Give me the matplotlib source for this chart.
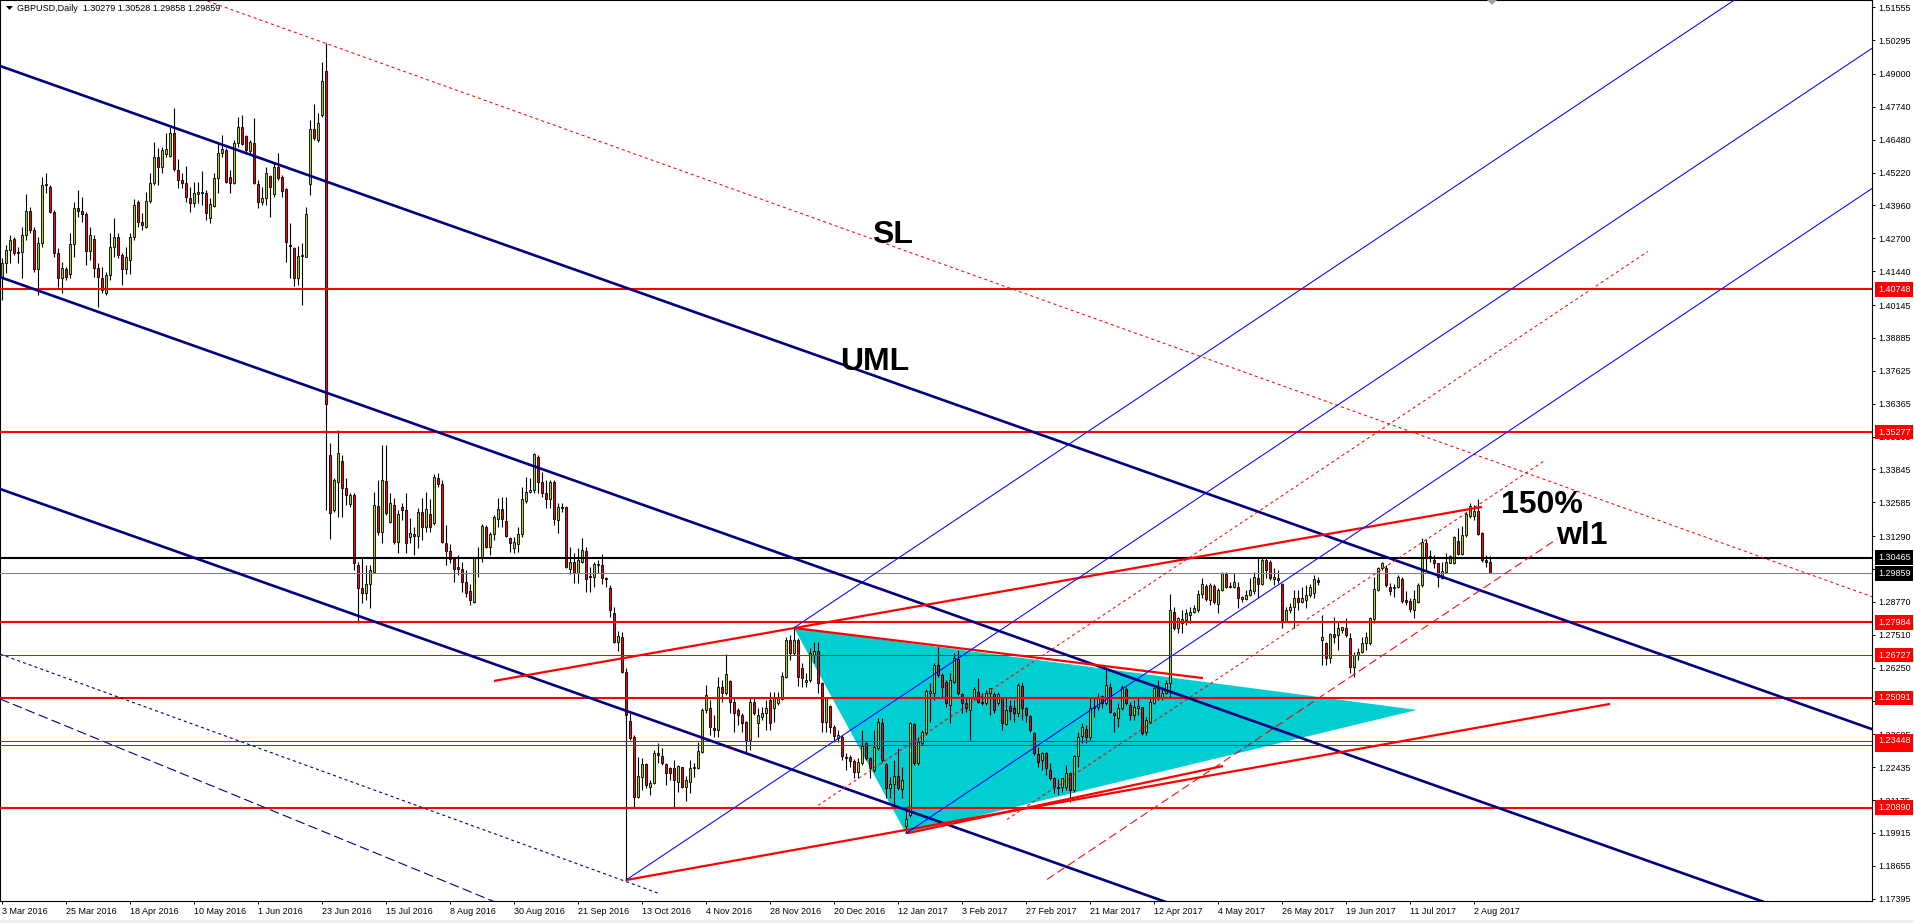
import numpy as np
import matplotlib.pyplot as plt
from matplotlib.patches import Polygon, Rectangle

plt.rcParams['lines.scale_dashes'] = False

# GBPUSD daily candles from 3 Mar 2016 to 8 Aug 2017, values in 1/10000 (pips)
opens_pips = [
    14123, 14174, 14225, 14266, 14219, 14219, 14283, 14376, 14302, 14151,
    14251, 14475, 14466, 14370, 14213, 14117, 14151, 14133, 14248, 14385,
    14376, 14362, 14223, 14266, 14158, 14119, 14059, 14130, 14238, 14274,
    14206, 14151, 14187, 14274, 14411, 14334, 14315, 14413, 14481, 14581,
    14545, 14593, 14587, 14673, 14532, 14494, 14483, 14423, 14404, 14439,
    14445, 14443, 14349, 14394, 14500, 14596, 14609, 14504, 14481, 14634,
    14698, 14662, 14606, 14637, 14478, 14411, 14423, 14509, 14440, 14542,
    14504, 14458, 14245, 14232, 14117, 14202, 14200, 14478, 14688, 14647,
    14743, 14913, 13440, 13229, 13338, 13417, 13312, 13252, 13287, 13018,
    12929, 12910, 12946, 12990, 13244, 13146, 13340, 13184, 13248, 13108,
    13242, 13229, 13127, 13137, 13129, 13223, 13165, 13212, 13181, 13350,
    13327, 13104, 13073, 13040, 13009, 13002, 12954, 12920, 12878, 13044,
    13050, 13165, 13089, 13137, 13193, 13232, 13188, 13121, 13082, 13100,
    13137, 13265, 13299, 13306, 13433, 13338, 13293, 13270, 13338, 13191,
    13242, 13242, 13002, 13031, 12989, 13031, 13073, 12976, 12974, 13018,
    13018, 12967, 12929, 12833, 12725, 12744, 12610, 12422, 12361, 12131,
    12207, 12256, 12169, 12182, 12297, 12286, 12256, 12239, 12239, 12188,
    12243, 12166, 12188, 12239, 12239, 12303, 12463, 12469, 12392, 12386,
    12552, 12527, 12572, 12495, 12463, 12444, 12418, 12348, 12495, 12412,
    12437, 12450, 12501, 12469, 12488, 12503, 12590, 12731, 12680, 12731,
    12622, 12571, 12578, 12672, 12690, 12565, 12418, 12478, 12399, 12354,
    12358, 12284, 12281, 12268, 12226, 12258, 12337, 12277, 12233, 12316,
    12412, 12254, 12162, 12179, 12211, 12160, 12019, 12060, 12409, 12258,
    12335, 12373, 12527, 12527, 12635, 12597, 12571, 12482, 12571, 12657,
    12524, 12488, 12463, 12514, 12533, 12495, 12488, 12527, 12524, 12488,
    12507, 12409, 12478, 12469, 12450, 12555, 12469, 12440, 12376, 12294,
    12271, 12297, 12233, 12201, 12169, 12169, 12169, 12220, 12156, 12286,
    12363, 12389, 12358, 12469, 12475, 12516, 12488, 12552, 12450, 12431,
    12469, 12542, 12482, 12444, 12469, 12473, 12380, 12418, 12491, 12546,
    12507, 12527, 12567, 12839, 12776, 12795, 12808, 12827, 12840, 12846,
    12907, 12938, 12884, 12938, 12869, 12923, 12984, 12935, 12935, 12935,
    12887, 12887, 12903, 12920, 12967, 12946, 13037, 13031, 12963, 12967,
    12946, 12805, 12846, 12859, 12891, 12878, 12884, 12903, 12910, 12961,
    12731, 12718, 12661, 12754, 12750, 12769, 12776, 12737, 12626, 12673,
    12686, 12718, 12718, 12810, 12923, 13006, 13006, 12933, 12929, 12933,
    12963, 12884, 12882, 12846, 12878, 12942, 13104, 13053, 13037, 13025,
    12967, 12993, 13027, 13027, 13112, 13060, 13133, 13206, 13206, 13225,
    13140, 13037, 13028]
highs_pips = [
    14194, 14245, 14283, 14277, 14238, 14315, 14439, 14391, 14315, 14277,
    14506, 14519, 14475, 14379, 14232, 14181, 14162, 14289, 14411, 14455,
    14430, 14372, 14315, 14283, 14174, 14162, 14142, 14289, 14347, 14289,
    14213, 14238, 14289, 14420, 14417, 14366, 14449, 14519, 14641, 14615,
    14621, 14673, 14698, 14768, 14573, 14519, 14547, 14468, 14487, 14487,
    14529, 14455, 14423, 14522, 14634, 14666, 14615, 14532, 14647, 14734,
    14743, 14666, 14647, 14730, 14494, 14468, 14545, 14513, 14560, 14598,
    14513, 14462, 14330, 14238, 14241, 14251, 14391, 14724, 14785, 14752,
    14947, 15017, 13485, 13350, 13536, 13440, 13350, 13293, 13293, 13031,
    13044, 13018, 13018, 13299, 13344, 13478, 13478, 13293, 13274, 13229,
    13255, 13293, 13197, 13165, 13236, 13274, 13299, 13270, 13367, 13370,
    13344, 13172, 13098, 13045, 13057, 13031, 12999, 12946, 13050, 13089,
    13176, 13172, 13146, 13210, 13274, 13278, 13280, 13127, 13127, 13165,
    13316, 13357, 13350, 13449, 13440, 13376, 13344, 13344, 13344, 13255,
    13255, 13244, 13089, 13066, 13082, 13121, 13089, 13012, 13031, 13037,
    13060, 12974, 12942, 12859, 12767, 12763, 12622, 12450, 12367, 12284,
    12278, 12258, 12194, 12309, 12335, 12316, 12261, 12246, 12271, 12252,
    12246, 12210, 12271, 12258, 12341, 12469, 12559, 12501, 12444, 12591,
    12578, 12677, 12578, 12508, 12469, 12450, 12422, 12514, 12514, 12469,
    12475, 12501, 12533, 12533, 12533, 12610, 12744, 12750, 12778, 12737,
    12641, 12603, 12699, 12724, 12724, 12571, 12514, 12482, 12405, 12386,
    12367, 12297, 12290, 12274, 12277, 12386, 12341, 12284, 12386, 12431,
    12431, 12258, 12207, 12271, 12316, 12246, 12092, 12418, 12414, 12361,
    12386, 12542, 12567, 12641, 12705, 12603, 12578, 12603, 12680, 12693,
    12527, 12507, 12514, 12552, 12584, 12527, 12539, 12548, 12533, 12533,
    12514, 12514, 12501, 12501, 12565, 12571, 12475, 12444, 12380, 12322,
    12303, 12303, 12258, 12207, 12197, 12201, 12252, 12226, 12290, 12380,
    12412, 12405, 12514, 12507, 12529, 12520, 12629, 12565, 12456, 12488,
    12558, 12552, 12495, 12501, 12507, 12475, 12437, 12507, 12552, 12578,
    12552, 12578, 12907, 12859, 12820, 12846, 12848, 12859, 12865, 12923,
    12967, 12946, 12948, 12946, 12929, 12993, 12993, 12954, 12986, 12954,
    12900, 12923, 12967, 12993, 13044, 13044, 13044, 13037, 13006, 12999,
    12951, 12859, 12871, 12923, 12923, 12935, 12942, 12946, 12980, 12974,
    12827, 12725, 12756, 12818, 12801, 12782, 12814, 12756, 12686, 12699,
    12744, 12763, 12820, 12974, 13012, 13031, 13018, 12948, 12946, 12980,
    12974, 12920, 12891, 12923, 12951, 13121, 13117, 13076, 13057, 13027,
    13031, 13063, 13057, 13129, 13159, 13168, 13223, 13255, 13248, 13270,
    13146, 13057, 13053]
lows_pips = [
    14034, 14136, 14174, 14206, 14174, 14117, 14264, 14289, 14142, 14053,
    14238, 14443, 14366, 14200, 14082, 14059, 14110, 14117, 14200, 14353,
    14334, 14168, 14187, 14123, 14008, 14059, 14053, 14110, 14200, 14194,
    14091, 14133, 14133, 14264, 14315, 14302, 14308, 14404, 14475, 14475,
    14519, 14583, 14583, 14529, 14462, 14462, 14411, 14372, 14391, 14404,
    14398, 14340, 14330, 14391, 14443, 14583, 14483, 14443, 14478, 14621,
    14628, 14593, 14590, 14478, 14385, 14398, 14398, 14351, 14430, 14494,
    14430, 14181, 14117, 14087, 14091, 14015, 14197, 14436, 14647, 14641,
    14736, 13230, 13117, 13223, 13204, 13204, 13248, 13242, 12999, 12797,
    12871, 12884, 12852, 12986, 13133, 13104, 13210, 13178, 13100, 13066,
    13191, 13063, 13101, 13057, 13082, 13114, 13146, 13146, 13172, 13318,
    13101, 13018, 13025, 12954, 12980, 12916, 12897, 12865, 12874, 12974,
    13031, 13082, 13057, 13114, 13165, 13165, 13127, 13069, 13063, 13069,
    13127, 13255, 13296, 13296, 13296, 13280, 13236, 13236, 13172, 13140,
    13223, 13006, 12984, 12948, 12948, 13025, 12916, 12916, 12935, 12986,
    12946, 12935, 12818, 12718, 12690, 12603, 11811, 12348, 12092, 12124,
    12156, 12162, 12137, 12179, 12258, 12252, 12175, 12194, 12086, 12150,
    12162, 12115, 12143, 12207, 12235, 12297, 12450, 12367, 12361, 12358,
    12495, 12520, 12450, 12380, 12405, 12380, 12303, 12309, 12444, 12361,
    12424, 12386, 12386, 12418, 12482, 12501, 12584, 12655, 12673, 12555,
    12552, 12552, 12571, 12641, 12529, 12380, 12380, 12373, 12341, 12341,
    12271, 12233, 12246, 12201, 12201, 12252, 12271, 12201, 12226, 12309,
    12265, 12124, 12124, 12092, 12156, 12124, 11990, 12054, 12252, 12252,
    12328, 12367, 12418, 12501, 12590, 12514, 12475, 12412, 12565, 12520,
    12450, 12456, 12348, 12501, 12488, 12482, 12482, 12444, 12450, 12482,
    12386, 12405, 12424, 12418, 12437, 12424, 12418, 12380, 12290, 12246,
    12233, 12214, 12194, 12143, 12137, 12150, 12156, 12111, 12150, 12246,
    12335, 12335, 12348, 12437, 12463, 12469, 12482, 12450, 12380, 12399,
    12463, 12482, 12424, 12424, 12444, 12367, 12367, 12412, 12486, 12501,
    12501, 12524, 12514, 12769, 12757, 12756, 12789, 12795, 12833, 12840,
    12891, 12882, 12865, 12869, 12833, 12920, 12929, 12929, 12929, 12852,
    12878, 12884, 12900, 12907, 12891, 12942, 12967, 12961, 12942, 12948,
    12776, 12801, 12833, 12776, 12846, 12871, 12852, 12897, 12891, 12942,
    12635, 12635, 12641, 12718, 12693, 12756, 12744, 12603, 12590, 12654,
    12680, 12693, 12712, 12795, 12920, 12999, 12935, 12903, 12897, 12929,
    12874, 12865, 12840, 12814, 12874, 12935, 12999, 13031, 13006, 12933,
    12963, 12989, 13025, 13022, 13057, 13057, 13127, 13197, 13191, 13133,
    13031, 13012, 12986]
closes_pips = [
    14174, 14225, 14264, 14215, 14213, 14283, 14376, 14302, 14151, 14251,
    14475, 14478, 14370, 14213, 14117, 14155, 14123, 14248, 14385, 14376,
    14362, 14223, 14283, 14158, 14123, 14072, 14130, 14238, 14274, 14206,
    14151, 14197, 14274, 14398, 14334, 14321, 14413, 14481, 14581, 14545,
    14609, 14611, 14673, 14534, 14494, 14483, 14427, 14404, 14443, 14449,
    14449, 14368, 14402, 14500, 14596, 14611, 14487, 14483, 14634, 14698,
    14632, 14609, 14641, 14481, 14411, 14423, 14519, 14466, 14542, 14500,
    14453, 14257, 14241, 14117, 14202, 14205, 14362, 14688, 14653, 14713,
    14873, 13635, 13219, 13344, 13446, 13312, 13287, 13287, 13025, 12929,
    12910, 12946, 12999, 13248, 13146, 13344, 13219, 13255, 13108, 13212,
    13229, 13101, 13140, 13129, 13220, 13165, 13232, 13165, 13357, 13327,
    13108, 13073, 13040, 13002, 13002, 12954, 12910, 12884, 13044, 13050,
    13168, 13089, 13137, 13201, 13232, 13193, 13129, 13104, 13108, 13137,
    13270, 13299, 13306, 13444, 13338, 13293, 13270, 13338, 13193, 13242,
    13238, 13009, 13031, 12989, 13037, 13076, 12963, 12971, 13022, 13022,
    12967, 12963, 12846, 12725, 12746, 12610, 12444, 12354, 12131, 12210,
    12256, 12175, 12182, 12297, 12290, 12258, 12222, 12220, 12194, 12248,
    12166, 12194, 12239, 12246, 12307, 12463, 12520, 12399, 12386, 12552,
    12527, 12601, 12495, 12450, 12444, 12412, 12348, 12495, 12450, 12444,
    12450, 12469, 12414, 12507, 12514, 12593, 12731, 12680, 12731, 12590,
    12584, 12578, 12680, 12690, 12565, 12418, 12507, 12399, 12363, 12367,
    12286, 12277, 12268, 12226, 12265, 12325, 12277, 12239, 12322, 12418,
    12271, 12162, 12179, 12211, 12162, 12194, 12044, 12412, 12258, 12341,
    12377, 12537, 12537, 12635, 12597, 12552, 12488, 12578, 12661, 12527,
    12488, 12469, 12507, 12542, 12495, 12491, 12527, 12546, 12463, 12524,
    12412, 12463, 12460, 12450, 12558, 12469, 12444, 12386, 12297, 12265,
    12297, 12239, 12201, 12169, 12162, 12201, 12220, 12156, 12286, 12361,
    12399, 12361, 12469, 12475, 12514, 12488, 12558, 12456, 12444, 12469,
    12552, 12488, 12444, 12475, 12478, 12373, 12424, 12495, 12546, 12507,
    12527, 12565, 12846, 12776, 12814, 12810, 12833, 12840, 12852, 12907,
    12946, 12887, 12942, 12878, 12923, 12986, 12935, 12938, 12954, 12891,
    12894, 12903, 12923, 12974, 12946, 13037, 12999, 12967, 12974, 12961,
    12808, 12846, 12859, 12891, 12878, 12891, 12903, 12935, 12963, 12954,
    12741, 12661, 12754, 12744, 12776, 12779, 12750, 12626, 12673, 12686,
    12718, 12741, 12814, 12925, 13006, 13027, 12942, 12920, 12933, 12971,
    12882, 12878, 12848, 12887, 12942, 13108, 13050, 13044, 13025, 12974,
    12997, 13031, 13053, 13124, 13060, 13133, 13214, 13244, 13225, 13137,
    13037, 13031, 12986]

# date labels every 16 bars
date_labels = ['3 Mar 2016', '25 Mar 2016', '18 Apr 2016', '10 May 2016', '1 Jun 2016',
               '23 Jun 2016', '15 Jul 2016', '8 Aug 2016', '30 Aug 2016', '21 Sep 2016',
               '13 Oct 2016', '4 Nov 2016', '28 Nov 2016', '20 Dec 2016', '12 Jan 2017',
               '3 Feb 2017', '27 Feb 2017', '21 Mar 2017', '12 Apr 2017', '4 May 2017',
               '26 May 2017', '19 Jun 2017', '11 Jul 2017', '2 Aug 2017']
price_ticks = [1.51555, 1.50295, 1.49000, 1.47740, 1.46480, 1.45220, 1.43960, 1.42700,
               1.41440, 1.40145, 1.38885, 1.37625, 1.36365, 1.35105, 1.33845, 1.32585,
               1.31290, 1.30030, 1.28770, 1.27510, 1.26250, 1.24990, 1.23695, 1.22435,
               1.21175, 1.19915, 1.18655, 1.17395]

# horizontal levels (price, line width)
red_levels = [(1.40748, 1.5), (1.35277, 1.5), (1.27984, 1.5), (1.26727, 0.75),
              (1.25091, 1.5), (1.23300, 0.75), (1.23448, 0.75), (1.20890, 1.5)]
black_level = 1.30465
bid_price = 1.29859

# trendline anchors (bar index, price)
navy_lines = [[(0, 1.4928), (467, 1.2392)],
              [(0, 1.4119), (467, 1.1583)],
              [(0, 1.3307), (467, 1.0771)]]
navy_dash = [(-0.5, 1.2505), (122, 1.1735)]
navy_dot = [(-0.5, 1.2677), (164.5, 1.1758)]
sl_line = [(81, 1.5017), (467.5, 1.2897)]
upper_trend = [(123, 1.2574), (370, 1.3241)]
tri_top = [(198, 1.2777), (300.25, 1.2585)]
lower_trend = [(156, 1.1811), (402, 1.2486)]
lower_trend2 = [(226.25, 1.1990), (305.25, 1.2248)]
triangle = [(198, 1.2777), (226, 1.1990), (353.75, 1.2463)]
# pitchfork pivots: Oct 7 low, Dec 6 high, Jan 16 low
pf_a, pf_b, pf_c = 156, 198, 226
# extra pitchfork lines (fraction of half width below median, first bar, last bar)
warn_lines = [(0.382, 202.75, 411.5, 'dot'), (1.382, 251.25, 385.5, 'dot'),
              (2.0, 261.25, 388.75, 'dash')]

o = np.array(opens_pips) / 1e4
h = np.array(highs_pips) / 1e4
l = np.array(lows_pips) / 1e4
c = np.array(closes_pips) / 1e4
idx = np.arange(len(c))

fig = plt.figure(figsize=(19.15, 9.23), dpi=100)
ax = fig.add_axes([0.0, 22 / 923, 1872 / 1915, 901 / 923])
ax.set_xlim(-0.5, 467.5)
ax.set_ylim(1.17307, 1.51835)

# cyan triangle behind the candles
ax.add_patch(Polygon(triangle, closed=True, fc='#00ced1', ec='none', zorder=1))

# candles
up = c >= o
body_lo = np.minimum(o, c)
body_h = np.maximum(np.abs(c - o), 0.0003)
ax.vlines(idx, l, h, color='black', lw=0.8, zorder=3)
ax.bar(idx, body_h, bottom=body_lo, width=0.7,
       color=np.where(up, '#9acd32', '#ff0000'), edgecolor='black', linewidth=0.6, zorder=4)

# horizontal lines
for p, w in red_levels:
    ax.axhline(p, color='red', lw=w, zorder=5)
ax.axhline(black_level, color='black', lw=1.5, zorder=5)
ax.axhline(bid_price, color='#808080', lw=0.75, zorder=5)


def extend(pts, x0, x1):
    (xa, ya), (xb, yb) = pts
    k = (yb - ya) / (xb - xa)
    return [x0, x1], [ya + k * (x0 - xa), ya + k * (x1 - xa)]


for pts in navy_lines:
    xs, ys = extend(pts, -0.5, 467.5)
    ax.plot(xs, ys, color='#000080', lw=1.9, zorder=5)
xs, ys = extend(navy_dash, -0.5, 140)
ax.plot(xs, ys, color='#000080', lw=0.8, dashes=(7, 3), zorder=5)
ax.plot(*zip(*navy_dot), color='#000080', lw=0.8, dashes=(2.2, 2.2), zorder=5)
xs, ys = extend(sl_line, 30, 467.5)
ax.plot(xs, ys, color='red', lw=0.75, dashes=(2.2, 2.2), zorder=5)

for pts in (upper_trend, tri_top, lower_trend, lower_trend2):
    ax.plot(*zip(*pts), color='red', lw=1.6, solid_capstyle='butt', zorder=5)

# Andrews pitchfork from the three pivots
ya, yb, yc = l[pf_a], h[pf_b], l[pf_c]
mid_x, mid_y = (pf_b + pf_c) / 2, (yb + yc) / 2
slope = (mid_y - ya) / (mid_x - pf_a)
half = yb - (ya + slope * (pf_b - pf_a))


def median(x):
    return ya + slope * (np.asarray(x) - pf_a)


for x0, off in ((pf_a, 0.0), (pf_b, half), (pf_c, -half)):
    xs = np.array([x0, 480])
    ax.plot(xs, median(xs) + off, color='#0000ff', lw=0.75, zorder=5)
for k, x0, x1, style in warn_lines:
    xs = np.array([x0, x1])
    d = (2.2, 2.2) if style == 'dot' else (6, 3)
    ax.plot(xs, median(xs) - k * half, color='red', lw=0.75, dashes=d, zorder=5)

# text labels on the chart
big = dict(fontsize=23, fontweight='bold', family='Liberation Sans', color='black',
           va='baseline', ha='left', zorder=6)
ax.text(217.5, 1.42523, 'SL', **big)
ax.text(209.65, 1.37656, 'UML', **big)
ax.text(374.75, 1.32176, '150%', **big)
ax.text(388.5, 1.30988, 'wl1', **big)

# header
ax.text(17 / 1872, 1 - 8.5 / 901, 'GBPUSD,Daily  1.30279 1.30528 1.29858 1.29859',
        transform=ax.transAxes, fontsize=6.5, family='Liberation Sans', va='center', ha='left')
ax.add_patch(Polygon([(6 / 1872, 1 - 6 / 901), (13 / 1872, 1 - 6 / 901), (9.5 / 1872, 1 - 10 / 901)],
                     closed=True, transform=ax.transAxes, fc='black', ec='none'))
# chart shift marker
ax.add_patch(Polygon([(1487 / 1872, 1.0), (1497 / 1872, 1.0), (1492 / 1872, 1 - 5 / 901)],
                     closed=True, transform=ax.transAxes, fc='#a0a0a0', ec='none', zorder=6))

# axes
ax.yaxis.tick_right()
ax.set_yticks(price_ticks)
ax.set_yticklabels(['%.5f' % p for p in price_ticks])
ax.set_xticks(np.arange(0, 16 * len(date_labels), 16))
ax.set_xticklabels(date_labels)
for t in ax.get_xticklabels():
    t.set_horizontalalignment('left')
ax.tick_params(axis='both', length=2.5, width=0.7, labelsize=6.5, pad=2,
               labelfontfamily='Liberation Sans', color='black')
for s in ax.spines.values():
    s.set_linewidth(0.8)
    s.set_color('black')

# highlighted price labels
tr = ax.get_yaxis_transform()
for p, w in red_levels:
    ax.text(1878 / 1872, p, '%.5f' % p, transform=tr, fontsize=6.5, family='Liberation Sans',
            color='white', va='center', ha='left', clip_on=False, zorder=7,
            bbox=dict(boxstyle='square,pad=0.3', fc='red', ec='none'))
for p in (black_level, bid_price):
    ax.text(1878 / 1872, p, '%.5f' % p, transform=tr, fontsize=6.5, family='Liberation Sans',
            color='white', va='center', ha='left', clip_on=False, zorder=7,
            bbox=dict(boxstyle='square,pad=0.3', fc='black', ec='none'))

fig.patches.append(Rectangle((0, 0), 1, 3 / 923, transform=fig.transFigure,
                             fc='#f0f0f0', ec='none'))

fig.savefig('out.png', dpi=100, facecolor='white')
